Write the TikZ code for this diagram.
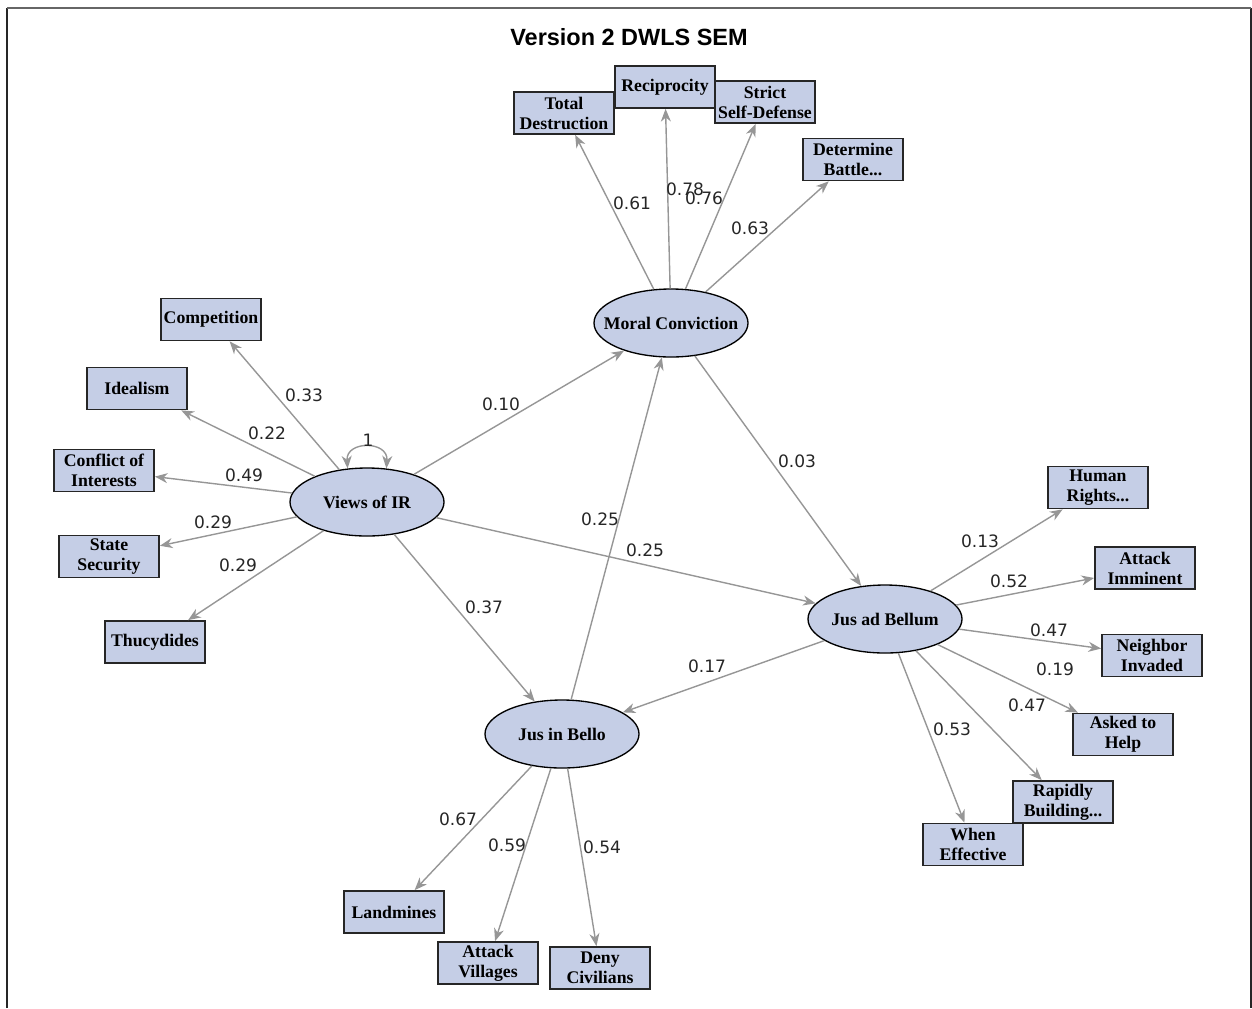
\documentclass[tikz,border=0pt]{standalone}
\usepackage{fontspec}
\setmainfont{Liberation Serif}
\newfontfamily\numfont{DejaVu Sans}
\newfontfamily\titlefont{Liberation Sans}
\usetikzlibrary{shapes.geometric,arrows.meta}
\definecolor{boxfill}{RGB}{197,206,230}
\definecolor{edgegray}{RGB}{150,150,150}
\tikzset{
  obs/.style={draw=black!85, line width=1.3pt, fill=boxfill, minimum width=75pt,
    minimum height=31.5pt, inner sep=0pt, align=center,
    font=\fontsize{13.3}{15}\selectfont\bfseries},
  lat/.style={ellipse, draw=black, line width=1pt, fill=boxfill,
    minimum width=115.5pt, minimum height=51pt, inner sep=0pt},
  lattext/.style={font=\fontsize{13.3}{15}\selectfont\bfseries, inner sep=0pt},
  arr/.style={draw=edgegray, line width=1.05pt, -{Stealth[length=9.5pt,width=7.5pt,inset=3pt]}},
  arrboth/.style={draw=edgegray, line width=1.05pt,
    {Stealth[length=9.5pt,width=7.5pt,inset=3pt]}-{Stealth[length=9.5pt,width=7.5pt,inset=3pt]}},
  lbl/.style={font=\numfont\fontsize{12.8}{14}\selectfont, text=black!85, inner sep=0pt},
  framedark/.style={draw=black!85, line width=1.3pt},
  framelight/.style={draw=black!60, line width=1.3pt},
}
\begin{document}
\begin{tikzpicture}[x=0.75pt,y=-0.75pt]
\useasboundingbox (0,0) rectangle (1252,1008);
% frame (open at the bottom)
\draw[framedark] (7,1008) -- (7,8);
\draw[framedark] (1251,8) -- (1251,1008);
\draw[framelight] (7,8) -- (1251,8);

\node[font=\titlefont\bfseries\fontsize{17.6}{20}\selectfont, inner sep=0pt] (title) at (629,37) {Version 2 DWLS SEM};

% latent variables
\node[lat] (mc) at (671,323) {};
\node[lattext] (mct) at (mc) {Moral Conviction};
\node[lat] (vir) at (367,502) {};
\node[lattext] (virt) at (vir) {Views of IR};
\node[lat] (jab) at (885,619) {};
\node[lattext] (jabt) at (jab) {Jus ad Bellum};
\node[lat] (jib) at (562,734) {};
\node[lattext] (jibt) at (jib) {Jus in Bello};

% indicators of Moral Conviction
\node[obs] (td) at (564,113) {Total\\Destruction};
\node[obs] (rec) at (665,87) {Reciprocity};
\node[obs] (ssd) at (765,102) {Strict\\Self-Defense};
\node[obs] (db) at (853,159.5) {Determine\\Battle...};

% indicators of Views of IR
\node[obs] (comp) at (211,319.5) {Competition};
\node[obs] (ideal) at (137,388.5) {Idealism};
\node[obs] (coi) at (104,470.5) {Conflict of\\Interests};
\node[obs] (ss) at (109,556.5) {State\\Security};
\node[obs] (thu) at (155,642) {Thucydides};

% indicators of Jus ad Bellum
\node[obs] (hr) at (1098,487.5) {Human\\Rights...};
\node[obs] (ai) at (1145,568) {Attack\\Imminent};
\node[obs] (ni) at (1152,655.5) {Neighbor\\Invaded};
\node[obs] (ath) at (1123,734.5) {Asked to\\Help};
\node[obs] (rb) at (1063,802) {Rapidly\\Building...};
\node[obs] (we) at (973,844.5) {When\\Effective};

% indicators of Jus in Bello
\node[obs] (lm) at (394,912) {Landmines};
\node[obs] (av) at (488,963) {Attack\\Villages};
\node[obs] (dc) at (600,968) {Deny\\Civilians};

% loadings
\draw[arr] (mc) -- (td);
\draw[arr] (mc) -- (rec);
\draw[arr] (mc) -- (ssd);
\draw[arr] (mc) -- (db);
\draw[arr] (vir) -- (comp);
\draw[arr] (vir) -- (ideal);
\draw[arr] (vir) -- (coi);
\draw[arr] (vir) -- (ss);
\draw[arr] (vir) -- (thu);
\draw[arr] (jab) -- (hr);
\draw[arr] (jab) -- (ai);
\draw[arr] (jab) -- (ni);
\draw[arr] (jab) -- (ath);
\draw[arr] (jab) -- (rb);
\draw[arr] (jab) -- (we);
\draw[arr] (jib) -- (lm);
\draw[arr] (jib) -- (av);
\draw[arr] (jib) -- (dc);

% structural paths
\draw[arr] (vir) -- (mc);
\draw[arr] (vir) -- (jab);
\draw[arr] (vir) -- (jib);
\draw[arr] (mc) -- (jab);
\draw[arr] (jib) -- (mc);
\draw[arr] (jab) -- (jib);

% variance loop
\draw[arrboth] (vir.120) .. controls +(-2,-28) and +(2,-28) .. (vir.60);

% labels
\node[lbl] (l1) at (632,203) {0.61};
\node[lbl] (l2) at (685,189) {0.78};
\node[lbl] (l3) at (704,198) {0.76};
\node[lbl] (l4) at (750,228) {0.63};
\node[lbl] (l5) at (304,395) {0.33};
\node[lbl] (l6) at (267,433) {0.22};
\node[lbl] (l7) at (244,475) {0.49};
\node[lbl] (l8) at (213,522) {0.29};
\node[lbl] (l9) at (238,565) {0.29};
\node[lbl] (l10) at (368,440) {1};
\node[lbl] (l11) at (501,404) {0.10};
\node[lbl] (l12) at (645,550) {0.25};
\node[lbl] (l13) at (600,519) {0.25};
\node[lbl] (l14) at (484,607) {0.37};
\node[lbl] (l15) at (797,461) {0.03};
\node[lbl] (l16) at (707,666) {0.17};
\node[lbl] (l17) at (980,541) {0.13};
\node[lbl] (l18) at (1009,581) {0.52};
\node[lbl] (l19) at (1049,630) {0.47};
\node[lbl] (l20) at (1055,669) {0.19};
\node[lbl] (l21) at (1027,705) {0.47};
\node[lbl] (l22) at (952,729) {0.53};
\node[lbl] (l23) at (458,819) {0.67};
\node[lbl] (l24) at (507,845) {0.59};
\node[lbl] (l25) at (602,847) {0.54};
\end{tikzpicture}
\end{document}
